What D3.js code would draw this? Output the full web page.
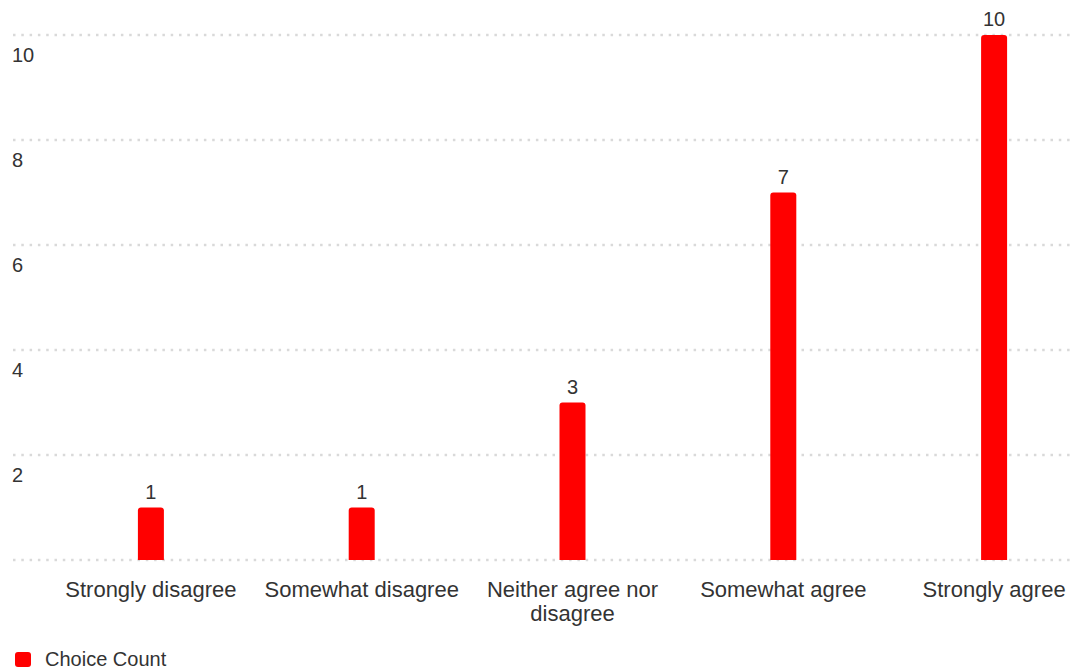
<!DOCTYPE html>
<html>
<head>
<meta charset="utf-8">
<script src="https://cdn.jsdelivr.net/npm/d3@7"></script>
<style>
  html, body { margin: 0; padding: 0; background: #fff; overflow: hidden; }
  text { font-family: "Liberation Sans", Arial, Helvetica, sans-serif; fill: #333; }
</style>
</head>
<body>
<div id="chart"></div>
<script>
const categories = ["Strongly disagree", "Somewhat disagree", "Neither agree nor disagree", "Somewhat agree", "Strongly agree"];
const counts = [1, 1, 3, 7, 10];
const yTicks = [2, 4, 6, 8, 10];
const seriesName = "Choice Count";
const barColor = "#ff0000";

const W = 1075, H = 670;
const plot = { left: 13, right: 1070, top: 35, bottom: 560 };

const svg = d3.select("#chart").append("svg").attr("width", W).attr("height", H);

const x = d3.scaleBand().domain(categories).range([45.5, 1099.5]);
const y = d3.scaleLinear().domain([0, 10]).range([plot.bottom, plot.top]);

// grid lines (dotted), including baseline
svg.append("g")
  .selectAll("line")
  .data([0, ...yTicks])
  .join("line")
  .attr("x1", plot.left)
  .attr("x2", plot.right)
  .attr("y1", (d) => y(d))
  .attr("y2", (d) => y(d))
  .attr("stroke", "#d9d9d9")
  .attr("stroke-width", 2.5)
  .attr("stroke-dasharray", "2.5,5.8");

// y tick labels sit below their grid line
svg.append("g")
  .selectAll("text")
  .data(yTicks)
  .join("text")
  .attr("x", 12)
  .attr("y", (d) => y(d) + 27)
  .attr("font-size", 20)
  .text((d) => d);

const barW = 26, r = 3;
const topRounded = (x0, y0, w, h) =>
  `M${x0},${y0 + h}V${y0 + r}Q${x0},${y0} ${x0 + r},${y0}H${x0 + w - r}Q${x0 + w},${y0} ${x0 + w},${y0 + r}V${y0 + h}Z`;

const bars = categories.map((c, i) => ({ c, v: counts[i] }));

svg.append("g")
  .selectAll("path")
  .data(bars)
  .join("path")
  .attr("fill", barColor)
  .attr("d", (d) => {
    const cx = x(d.c) + x.bandwidth() / 2;
    return topRounded(cx - barW / 2, y(d.v), barW, y(0) - y(d.v));
  });

svg.append("g")
  .selectAll("text")
  .data(bars)
  .join("text")
  .attr("text-anchor", "middle")
  .attr("font-size", 20)
  .attr("x", (d) => x(d.c) + x.bandwidth() / 2)
  .attr("y", (d) => y(d.v) - 9)
  .text((d) => d.v);

// category labels, wrapped
const wrapLines = { "Neither agree nor disagree": ["Neither agree nor", "disagree"] };
svg.append("g")
  .selectAll("text")
  .data(categories)
  .join("text")
  .attr("text-anchor", "middle")
  .attr("font-size", 22)
  .attr("x", (d) => x(d) + x.bandwidth() / 2)
  .attr("y", 597)
  .each(function (d) {
    const lines = wrapLines[d] || [d];
    const t = d3.select(this);
    lines.forEach((l, i) => {
      t.append("tspan")
        .attr("x", x(d) + x.bandwidth() / 2)
        .attr("dy", i === 0 ? 0 : 24)
        .text(l);
    });
  });

// legend (kept just inside the bottom edge)
const lg = svg.append("g");
lg.append("rect").attr("x", 15).attr("y", 652).attr("width", 16).attr("height", 15).attr("rx", 3).attr("fill", barColor);
lg.append("text").attr("x", 45).attr("y", 666).attr("font-size", 20).text(seriesName);
</script>
</body>
</html>
